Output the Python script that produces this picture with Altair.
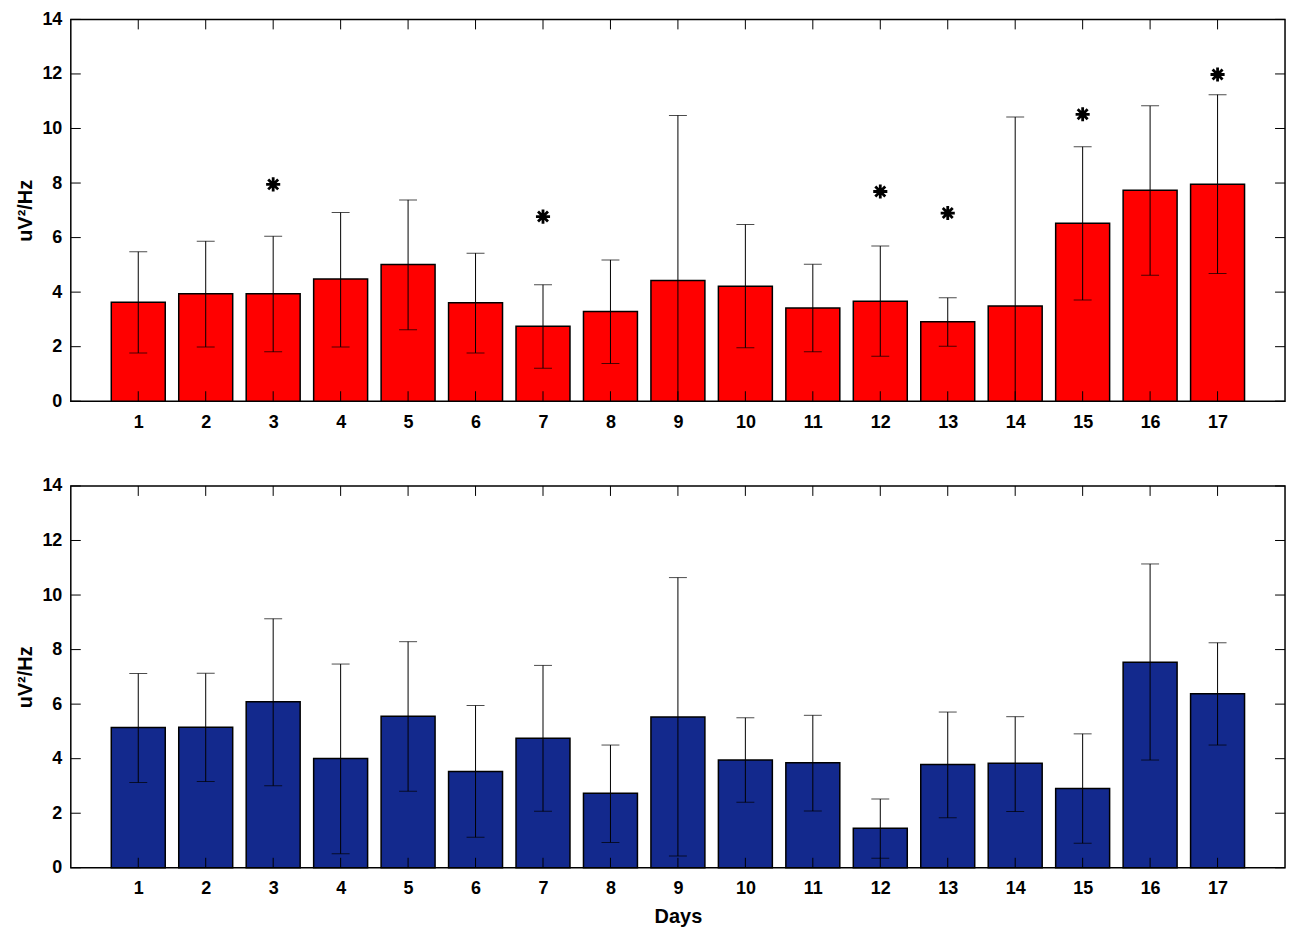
import altair as alt
import pandas as pd

# ---------------- data ----------------
days = list(range(1, 18))

top_mean = [3.63, 3.94, 3.94, 4.48, 5.01, 3.61, 2.75, 3.29, 4.43, 4.22, 3.42, 3.67, 2.91, 3.49, 6.53, 7.74, 7.96]
top_lo = [1.77, 1.99, 1.81, 1.99, 2.62, 1.77, 1.21, 1.38, -1.62, 1.96, 1.81, 1.65, 2.02, -3.44, 3.71, 4.62, 4.68]
top_hi = [5.48, 5.87, 6.05, 6.92, 7.38, 5.43, 4.27, 5.18, 10.48, 6.48, 5.02, 5.69, 3.79, 10.42, 9.33, 10.83, 11.24]

star_days = [3, 7, 12, 13, 15, 17]
star_vals = [7.95, 6.77, 7.69, 6.90, 10.52, 11.98]

bot_mean = [5.14, 5.15, 6.09, 4.01, 5.56, 3.53, 4.75, 2.73, 5.53, 3.95, 3.85, 1.45, 3.79, 3.83, 2.91, 7.54, 6.38]
bot_lo = [3.13, 3.16, 3.01, 0.51, 2.81, 1.12, 2.07, 0.93, 0.43, 2.40, 2.08, 0.35, 1.83, 2.06, 0.90, 3.95, 4.50]
bot_hi = [7.12, 7.13, 9.13, 7.47, 8.29, 5.95, 7.42, 4.50, 10.64, 5.50, 5.59, 2.52, 5.71, 5.54, 4.91, 11.14, 8.25]

y_ticks = [0, 2, 4, 6, 8, 10, 12, 14]
x_ticks = days

BAR_W = 0.8
W, H = 1218, 383
FONT = "Liberation Sans"

xs = alt.Scale(domain=[0, 18], nice=False, zero=False)
ys = alt.Scale(domain=[0, 14], nice=False)


def panel(mean, lo, hi, color, xtitle, stars=None):
    xax = alt.Axis(values=x_ticks, title=xtitle, labelPadding=12, titlePadding=9,
                   ticks=False, domain=False, grid=False, format="d")
    yax = alt.Axis(values=y_ticks, title="uV²/Hz", labelPadding=9, titlePadding=6,
                   ticks=False, domain=False, grid=False)
    df = pd.DataFrame({"day": days, "mean": mean, "lo": lo, "hi": hi})
    base = alt.Chart(df)
    bars = base.mark_bar(color=color, stroke="black", strokeWidth=1.5).transform_calculate(
        x0=f"datum.day - {BAR_W / 2}", x1=f"datum.day + {BAR_W / 2}"
    ).encode(
        x=alt.X("x0:Q", scale=xs, axis=xax),
        x2="x1:Q",
        y=alt.Y("mean:Q", scale=ys, axis=yax),
        y2=alt.datum(0),
    )
    rule = base.mark_rule(color="black", strokeWidth=1, clip=True).encode(
        x=alt.X("day:Q", scale=xs, axis=xax),
        y=alt.Y("lo:Q", scale=ys, axis=yax),
        y2="hi:Q",
    )
    cap_lo = base.mark_tick(color="black", orient="horizontal", size=18, thickness=1, clip=True).encode(
        x=alt.X("day:Q", scale=xs, axis=xax),
        y=alt.Y("lo:Q", scale=ys, axis=yax),
    )
    cap_hi = base.mark_tick(color="black", orient="horizontal", size=18, thickness=1, clip=True).encode(
        x=alt.X("day:Q", scale=xs, axis=xax),
        y=alt.Y("hi:Q", scale=ys, axis=yax),
    )
    ydf = pd.DataFrame({"t": y_ticks})
    xdf = pd.DataFrame({"d": x_ticks})
    yl = alt.Chart(ydf).mark_rule(color="black", strokeWidth=1).encode(
        y=alt.Y("t:Q", scale=ys, axis=yax), x=alt.value(0), x2=alt.value(10))
    yr = alt.Chart(ydf).mark_rule(color="black", strokeWidth=1).encode(
        y=alt.Y("t:Q", scale=ys, axis=yax), x=alt.value(W - 10), x2=alt.value(W))
    xt = alt.Chart(xdf).mark_rule(color="black", strokeWidth=1).encode(
        x=alt.X("d:Q", scale=xs, axis=xax), y=alt.value(0), y2=alt.value(10))
    xb = alt.Chart(xdf).mark_rule(color="black", strokeWidth=1).encode(
        x=alt.X("d:Q", scale=xs, axis=xax), y=alt.value(H - 10), y2=alt.value(H))
    layers = [bars, rule, cap_lo, cap_hi, yl, yr, xt, xb]
    if stars is not None:
        sdf = pd.DataFrame({"day": stars[0], "v": stars[1]})
        star = alt.Chart(sdf).mark_point(
            shape="M0,-1L0,1M-1,0L1,0M-0.707,-0.707L0.707,0.707M-0.707,0.707L0.707,-0.707",
            size=200, filled=False, stroke="black", strokeWidth=2.8, opacity=1,
        ).encode(x=alt.X("day:Q", scale=xs, axis=xax), y=alt.Y("v:Q", scale=ys, axis=yax))
        layers.append(star)
    return alt.layer(*layers).properties(width=W, height=H)


top = panel(top_mean, top_lo, top_hi, "#FF0000", "", stars=(star_days, star_vals))
bottom = panel(bot_mean, bot_lo, bot_hi, "#13298D", "Days")

chart = alt.vconcat(top, bottom, spacing=85, bounds="flush").properties(
    padding={"left": 7, "top": 0, "right": 5, "bottom": 5}
).configure_view(
    stroke="black", strokeWidth=1.5
).configure_axis(
    labelFont=FONT, titleFont=FONT, labelFontSize=18, titleFontSize=20,
    labelFontWeight="bold", titleFontWeight="bold", labelColor="black", titleColor="black",
)

chart.save("out.html", embed_options={"renderer": "svg", "actions": False})
